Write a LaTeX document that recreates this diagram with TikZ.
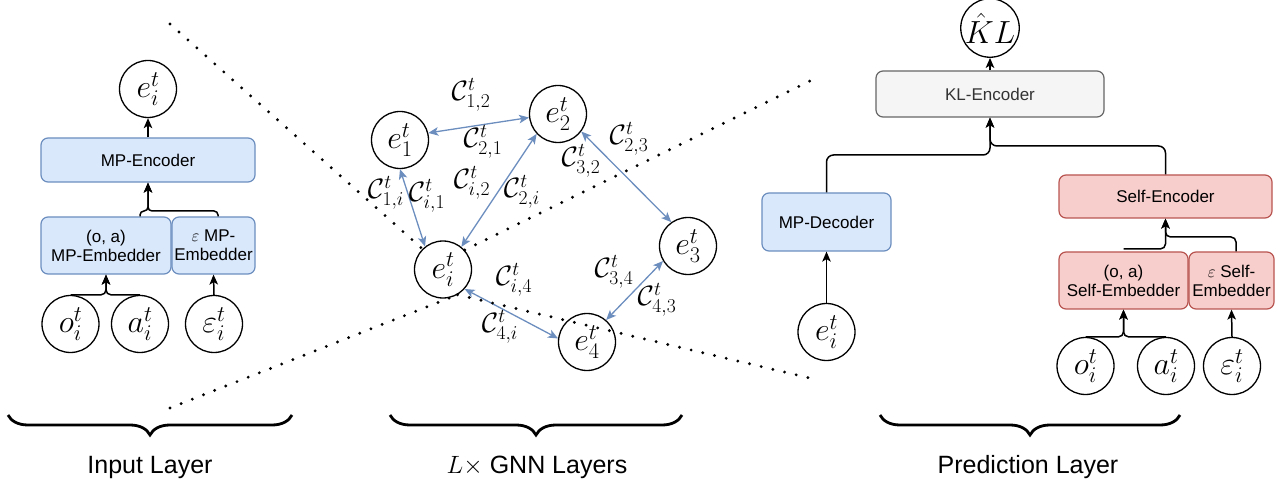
\RequirePackage{fix-cm}
\documentclass[tikz,border=0pt]{standalone}
\usepackage{fontspec}
\setsansfont{Liberation Sans}
\usetikzlibrary{arrows.meta,positioning,decorations.pathreplacing}
\definecolor{mpfill}{HTML}{DAE8FC}
\definecolor{mpline}{HTML}{6C8EBF}
\definecolor{sefill}{HTML}{F8CECC}
\definecolor{seline}{HTML}{B85450}
\definecolor{klfill}{HTML}{F5F5F5}
\definecolor{klline}{HTML}{666666}
\definecolor{kltext}{HTML}{333333}
\tikzset{
  >={Stealth[length=10pt,width=8.5pt,inset=2.5pt]},
  ent/.style  ={draw, circle, line width=1.3pt, minimum size=57pt, inner sep=0pt, font=\fontsize{32}{34}\selectfont},
  blk/.style  ={draw, rounded corners=7pt, line width=1.2pt, align=center, inner sep=0pt, font=\sffamily\fontsize{17}{19}\selectfont},
  mp/.style   ={blk, fill=mpfill, draw=mpline},
  se/.style   ={blk, fill=sefill, draw=seline},
  kl/.style   ={blk, fill=klfill, draw=klline, text=kltext},
  flow/.style ={->, line width=1.5pt, rounded corners=7pt},
  gnn/.style  ={<->, draw=mpline, line width=1.3pt},
  cost/.style ={inner sep=0pt, font=\fontsize{28}{30}\selectfont},
  dots/.style ={line width=3.2pt, line cap=round, dash pattern=on 0pt off 12pt},
  layer/.style={decorate, decoration={brace, mirror, amplitude=20pt}, line width=2.8pt},
  ttl/.style  ={font=\sffamily\fontsize{25}{28}\selectfont}
}
\begin{document}
\begin{tikzpicture}[x=1pt, y=-1pt]
\useasboundingbox (0,0) rectangle (1288,486);

% input layer
\node[ent] (le) at (148,89) {$e^t_i$};
\node[mp, minimum width=214pt, minimum height=44pt] (lenc) at (148,160) {MP-Encoder};
\node[mp, minimum width=130pt, minimum height=57pt] (loa) at (106,245.5) {(o, a)\\MP-Embedder};
\node[mp, minimum width=83pt, minimum height=57pt] (leps) at (213.5,245.5) {$\varepsilon$ MP-\\Embedder};
\node[ent] (lo) at (70.5,324) {$o^t_i$};
\node[ent] (la) at (140,324) {$a^t_i$};
\node[ent] (lx) at (214,324) {$\varepsilon^t_i$};

\draw[flow, rounded corners=5pt] (lo.north) -| (loa.south);
\draw[flow, rounded corners=5pt] (la.north) -| (loa.south);
\draw[flow] (lx.north) -- (leps.south);
\draw[flow, rounded corners=4pt] ([xshift=34pt]loa.north) |- (lenc.south |- 0,211) -- (lenc.south);
\draw[flow, rounded corners=4pt] ([xshift=4.5pt]leps.north) |- (lenc.south |- 0,211) -- (lenc.south);
\draw[flow] (lenc.north) -- (le.south);

% message passing graph
\node[ent] (g1) at (400,140) {$e^t_1$};
\node[ent] (g2) at (558,114) {$e^t_2$};
\node[ent] (g3) at (688,246) {$e^t_3$};
\node[ent] (gi) at (443,269.5) {$e^t_i$};
\node[ent] (g4) at (587,342) {$e^t_4$};

\draw[gnn] (g1.14) -- (g2.187);
\draw[gnn] (g1.south) -- (gi.128);
\draw[gnn] (g2.223) -- (gi.51);
\draw[gnn] (g2.323) -- (g3.125);
\draw[gnn] (g3.211) -- (g4.49);
\draw[gnn] (gi.318) -- (g4.173);

\foreach \nm/\sub/\x/\y in {c12/{1,2}/471/95, c21/{2,1}/483/142, ci2/{i,2}/472/183,
    c2i/{2,i}/522/192, c1i/{1,i}/386/193, ci1/{i,1}/427/196, c23/{2,3}/629/139,
    c32/{3,2}/581/161, ci4/{i,4}/514/280, c4i/{4,i}/500/327, c34/{3,4}/614/272,
    c43/{4,3}/657/300}
  \node[cost] (\nm) at (\x,\y) {$\mathcal{C}^t_{\sub}$};

% guide lines
\coordinate (d1) at (170,24);
\coordinate (d2) at (170,408);
\coordinate (d3) at (818,77);
\coordinate (d4) at (818,380);
\draw[dots] (d1) -- (gi.135);
\draw[dots] (d2) -- (gi.-60);
\draw[dots] (gi.42) -- (d3);
\draw[dots] (gi.-60) -- (d4);

% prediction layer
\node[ent] (kl) at (990,28) {$\hat{K}L$};
\node[kl, minimum width=228pt, minimum height=46pt] (klenc) at (990,94) {KL-Encoder};
\node[mp, minimum width=129pt, minimum height=58pt] (mpdec) at (826.5,222) {MP-Decoder};
\node[ent] (re) at (826.5,332) {$e^t_i$};
\node[se, minimum width=213pt, minimum height=43pt] (senc) at (1165.5,196.5) {Self-Encoder};
\node[se, minimum width=129pt, minimum height=57pt] (soa) at (1123.5,280.5) {(o, a)\\Self-Embedder};
\node[se, minimum width=85pt, minimum height=57pt] (seps) at (1231.5,280.5) {$\varepsilon$ Self-\\Embedder};
\node[ent] (ro) at (1085.5,366) {$o^t_i$};
\node[ent] (ra) at (1166,366) {$a^t_i$};
\node[ent] (rx) at (1232,366) {$\varepsilon^t_i$};

\draw[flow] (re.north) -- (mpdec.south);
\draw[flow] (mpdec.north) |- (klenc.south |- 0,155) -- (klenc.south);
\draw[flow] (senc.north) |- (klenc.south |- 0,146) -- (klenc.south);
\draw[flow] (klenc.north) -- (kl.south);
\draw[flow, rounded corners=5pt] (ro.north) -| (soa.south);
\draw[flow, rounded corners=5pt] (ra.north) -| (soa.south);
\draw[flow] (rx.north) -- (seps.south);
\draw[flow, rounded corners=5pt] ([yshift=2.5pt]soa.north) -| (senc.south);
\draw[flow, rounded corners=5pt] ([xshift=4.5pt]seps.north) |- (senc.south |- 0,237) -- (senc.south);

% layer braces
\draw[layer] (8,415) -- (292,415);
\draw[layer] (390,415) -- (682,415);
\draw[layer] (880,415) -- (1180,415);
\node[ttl] (inl) at (150,467) {Input Layer};
\node[ttl] (gnl) at (537,467) {$L\times$ GNN Layers};
\node[ttl] (prl) at (1028,467) {Prediction Layer};
\end{tikzpicture}
\end{document}
